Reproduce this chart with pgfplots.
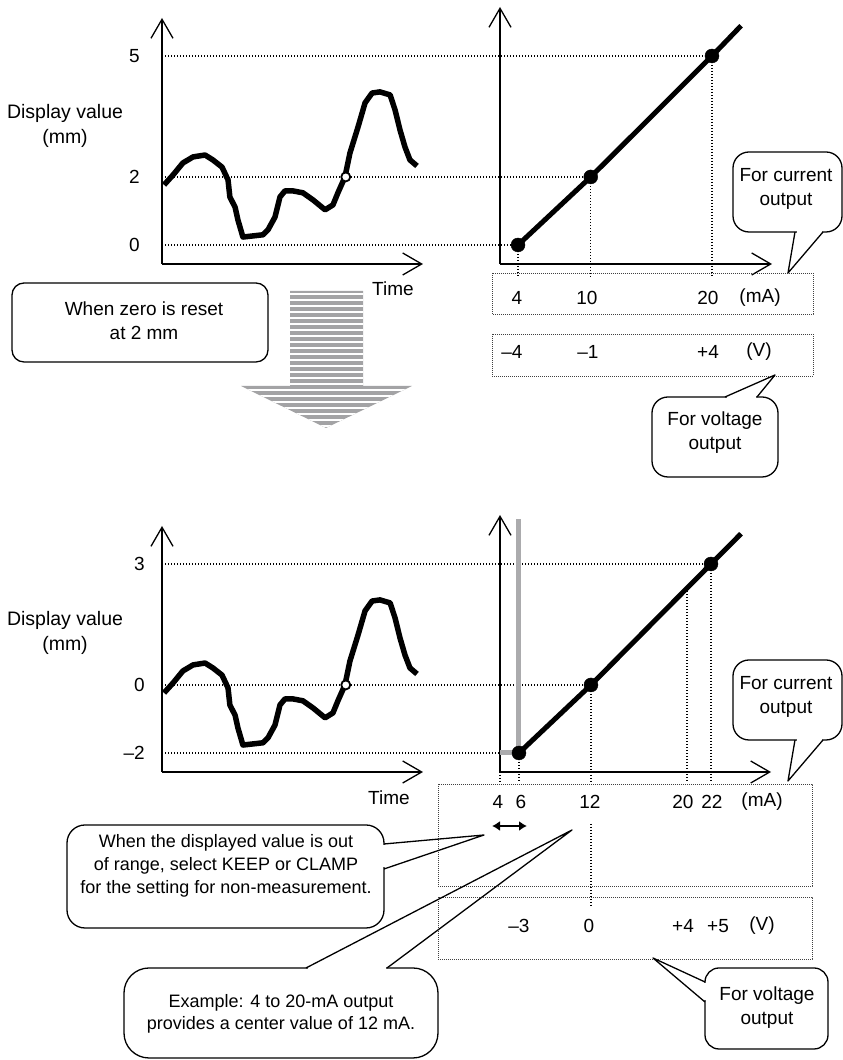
\documentclass[border=0pt]{standalone}
\usepackage{pgfplots}
\pgfplotsset{compat=1.18}
\usepackage{pgfplotstable}
\usepackage{fontspec}
\setmainfont{Liberation Sans}
\usetikzlibrary{arrows.meta}
\pgfdeclarelayer{background}
\pgfsetlayers{background,main}
\definecolor{stripegray}{HTML}{A3A3A5}
\definecolor{clampgray}{HTML}{ABABAD}

% display value over time (top: before zero reset)
\pgfplotstableread{
t v
0.8 1.59
4.2 1.85
8.0 2.17
11.9 2.33
16.5 2.38
19.5 2.25
23.0 2.06
25.3 1.72
26.0 1.27
28.0 1.00
29.1 0.66
31.0 0.21
34.9 0.24
38.7 0.27
40.6 0.40
43.3 0.74
45.2 1.27
47.1 1.43
50.2 1.43
54.0 1.38
57.9 1.19
62.5 0.93
65.5 1.06
67.4 1.38
70.1 1.80
72.0 2.43
75.1 3.12
77.8 3.76
80.5 4.02
83.5 4.05
87.4 3.97
89.3 3.57
91.2 3.04
93.1 2.59
95.0 2.25
97.7 2.09
}\curvetop

% display value over time (bottom: after zero reset at 2 mm)
\pgfplotstableread{
t v
0.8 -0.41
4.2 -0.15
8.0 0.17
11.9 0.33
16.5 0.38
19.5 0.25
23.0 0.06
25.3 -0.28
26.0 -0.73
28.0 -1.00
29.1 -1.34
31.0 -1.79
34.9 -1.76
38.7 -1.73
40.6 -1.60
43.3 -1.26
45.2 -0.73
47.1 -0.57
50.2 -0.57
54.0 -0.62
57.9 -0.81
62.5 -1.07
65.5 -0.94
67.4 -0.62
70.1 -0.20
72.0 0.43
75.1 1.12
77.8 1.76
80.5 2.02
83.5 2.05
87.4 1.97
89.3 1.57
91.2 1.04
93.1 0.59
95.0 0.25
97.7 0.09
}\curvebottom

\pgfplotsset{
  panel/.style={
    scale only axis, anchor=south west,
    axis lines=left,
    axis line style={line width=1.3bp},
    x axis line style={-{Straight Barb[length=19bp,width=22bp]}},
    y axis line style={-{Straight Barb[length=19bp,width=22bp]}},
    xtick=\empty,
    major tick length=0pt,
    clip=false,
    tick label style={font=\fontsize{19bp}{23bp}\selectfont},
    /pgf/number format/assume math mode=true,
  },
}
\tikzset{
  dots/.style={line width=1.15bp, dash pattern=on 1.15bp off 1.85bp},
  boxdots/.style={line width=0.8bp, dash pattern=on 0.8bp off 1.2bp, black!75},
  cl/.style={line width=1.3bp, line join=round},
  txt/.style={font=\fontsize{19bp}{24bp}\selectfont, align=center, inner sep=0pt},
}

\begin{document}
\begin{tikzpicture}
\useasboundingbox (0,0) rectangle (843bp,1060bp);

% ---------- top right: output vs current ----------
\begin{axis}[panel, name=tr, at={(500bp,796bp)},
  width=272bp, height=257bp, xmin=2.515, xmax=24.95, ymin=-0.503, ymax=6.296, ytick=\empty]
\addplot[line width=5bp, black] coordinates {(4,0) (10,1.8) (20,5) (22.4,5.8)};
\addplot[only marks, mark=*, mark size=7bp, black] coordinates {(4,0) (10,1.8) (20,5)};
\coordinate (t4) at (axis cs:4,0);
\coordinate (t10) at (axis cs:10,1.8);
\coordinate (t20) at (axis cs:20,5);
\draw[dots] (axis cs:4,0) -- (axis cs:4,-0.873);
\draw[dots] (axis cs:10,1.8) -- (axis cs:10,-0.873);
\draw[dots] (axis cs:20,5) -- (axis cs:20,-0.873);
\end{axis}

% ---------- bottom right: output vs current after reset ----------
\begin{axis}[panel, name=br, at={(500bp,288bp)},
  width=271bp, height=257bp, xmin=4.42, xmax=27.0, ymin=-2.503, ymax=4.296, ytick=\empty]
\addplot[line width=5bp, clampgray] coordinates {(4.42,-2) (6,-2) (6,4.19)};
\addplot[line width=5bp, black] coordinates {(6,-2) (12,-0.2) (22,3) (24.5,3.8)};
\addplot[only marks, mark=*, mark size=7bp, black] coordinates {(6,-2) (12,-0.2) (22,3)};
\coordinate (b6) at (axis cs:6,-2);
\coordinate (b12) at (axis cs:12,-0.2);
\coordinate (b22) at (axis cs:22,3);
\draw[dots] (axis cs:4.42,-2.503) -- (axis cs:4.42,-2.79);
\draw[dots] (axis cs:6,-2) -- (axis cs:6,-2.79);
\draw[dots] (axis cs:12,-0.2) -- (axis cs:12,-2.79);
\draw[dots] (axis cs:20,2.36) -- (axis cs:20,-2.79);
\draw[dots] (axis cs:22,3) -- (axis cs:22,-2.79);
\draw[dots] (axis cs:12,-3.878) -- (axis cs:12,-6.074);
\end{axis}

% ---------- top left: display value over time ----------
\begin{axis}[panel, name=tl, at={(162bp,796bp)},
  width=261bp, height=246bp, xmin=0, xmax=100, ymin=-0.503, ymax=6.005,
  ytick={0,1.8,5}, yticklabels={0,2,5},
  yticklabel style={anchor=east, inner sep=0pt, xshift=-22bp}]
\addplot[line width=5.5bp, black, line join=round] table[x=t, y=v] {\curvetop};
\addplot[only marks, mark=*, mark size=4.5bp, mark options={fill=white, draw=black, line width=1.8bp}] coordinates {(70.4,1.8)};
\end{axis}

% ---------- bottom left: display value after zero reset ----------
\begin{axis}[panel, name=bl, at={(162bp,288bp)},
  width=261bp, height=246bp, xmin=0, xmax=100, ymin=-2.503, ymax=4.005,
  ytick={-2,-0.2,3}, yticklabels={\textendash2,0,3},
  yticklabel style={anchor=east, inner sep=0pt, xshift=-17bp}]
\addplot[line width=5.5bp, black, line join=round] table[x=t, y=v] {\curvebottom};
\addplot[only marks, mark=*, mark size=4.5bp, mark options={fill=white, draw=black, line width=1.8bp}] coordinates {(70.4,-0.2)};
\end{axis}

% dotted reference lines (behind everything)
\begin{pgfonlayer}{background}
\draw[dots] (tl.south west |- t20) -- (t20);
\draw[dots] (tl.south west |- t10) -- (t10);
\draw[dots] (tl.south west |- t4) -- (t4);
\draw[dots] (bl.south west |- b22) -- (b22);
\draw[dots] (bl.south west |- b12) -- (b12);
\draw[dots] (bl.south west |- b6) -- (b6);
\end{pgfonlayer}

% ---------- annotations (pixel-like coordinates, y downwards) ----------
\begin{scope}[x=1bp, y=-1bp, yshift=1060bp]
% axis titles
\node[txt, font=\fontsize{19.5bp}{25bp}\selectfont] at (65,126) {Display value\\(mm)};
\node[txt, font=\fontsize{19.5bp}{25bp}\selectfont] at (65,633) {Display value\\(mm)};
\node[txt] at (393,289) {Time};
\node[txt] at (389,798) {Time};

% top boxes
\draw[boxdots] (492,273) rectangle (813,314);
\draw[boxdots] (492,334) rectangle (813,376);
\node[txt] at (517,298) {4};
\node[txt] at (587,298) {10};
\node[txt] at (708,298) {20};
\node[txt] at (760,298) {(mA)};
\node[txt] at (512,352) {\textendash4};
\node[txt] at (588,352) {\textendash1};
\node[txt] at (708,352) {+4};
\node[txt] at (759,352) {(V)};

% bottom boxes
\draw[boxdots] (438,784) rectangle (812,886);
\draw[boxdots] (438,897) rectangle (812,959);
\node[txt] at (498,802) {4};
\node[txt] at (521,802) {6};
\node[txt] at (590,802) {12};
\node[txt] at (683,802) {20};
\node[txt] at (712,802) {22};
\node[txt] at (762,802) {(mA)};
\node[txt] at (519,926) {\textendash3};
\node[txt] at (589,926) {0};
\node[txt] at (683,926) {+4};
\node[txt] at (718,926) {+5};
\node[txt] at (762,926) {(V)};
\draw[line width=2bp, {Latex[length=8bp,width=10bp]}-{Latex[length=8bp,width=10bp]}] (492,826) -- (527,826);

% zero reset box and striped arrow
\draw[cl, rounded corners=12bp] (12,283) rectangle (268,362);
\node[txt] at (144,321) {When zero is reset\\at 2 mm};
\begin{scope}
\clip (290,291) -- (363,291) -- (363,386) -- (412,386) -- (326,428) -- (241,386) -- (290,386) -- cycle;
\fill[stripegray] (230,285) rectangle (420,430);
\foreach \yy in {294,300,...,430} \draw[white, line width=1.2bp] (230,\yy) -- (420,\yy);
\end{scope}

% callout: for current output (top)
\draw[cl, rounded corners=16bp] (733,152) rectangle (842,232);
\fill[white] (796.5,229) rectangle (821.5,235);
\draw[cl] (795,232) -- (788,273) -- (823,232);
\node[txt] at (786,189) {For current\\output};
% callout: for voltage output (top)
\draw[cl, rounded corners=16bp] (652,397) rectangle (778,477);
\fill[white] (726.5,394) rectangle (755.5,400);
\draw[cl] (725,397) -- (775,375) -- (757,397);
\node[txt] at (715,433) {For voltage\\output};
% callout: for current output (bottom)
\draw[cl, rounded corners=16bp] (733,660) rectangle (842,740);
\fill[white] (796.5,737) rectangle (821.5,743);
\draw[cl] (795,740) -- (788,781) -- (823,740);
\node[txt] at (786,697) {For current\\output};
% callout: for voltage output (bottom)
\draw[cl, rounded corners=14bp] (705,968) rectangle (828,1049);
\fill[white] (702,983.5) rectangle (708,1000.5);
\draw[cl] (705,982) -- (653,958) -- (705,1002);
\node[txt] at (767,1008) {For voltage\\output};
% callout: out of range
\draw[cl, rounded corners=18bp] (67,825) rectangle (384,928);
\fill[white] (381,845.5) rectangle (387,867.5);
\draw[cl] (384,844) -- (484,835) -- (384,869);
\node[txt, font=\fontsize{18bp}{23bp}\selectfont] at (226,866) {When the displayed value is out\\of range, select KEEP or CLAMP\\for the setting for non-measurement.};
% callout: example
\draw[cl, rounded corners=25bp] (124,968) rectangle (438,1058);
\fill[white] (307.5,965) rectangle (385.5,971);
\draw[cl] (306,968) -- (572,830) -- (387,968);
\node[txt, font=\fontsize{18bp}{22bp}\selectfont] at (281,1014) {Example: 4 to 20-mA output\\provides a center value of 12 mA.};
\end{scope}
\end{tikzpicture}
\end{document}
